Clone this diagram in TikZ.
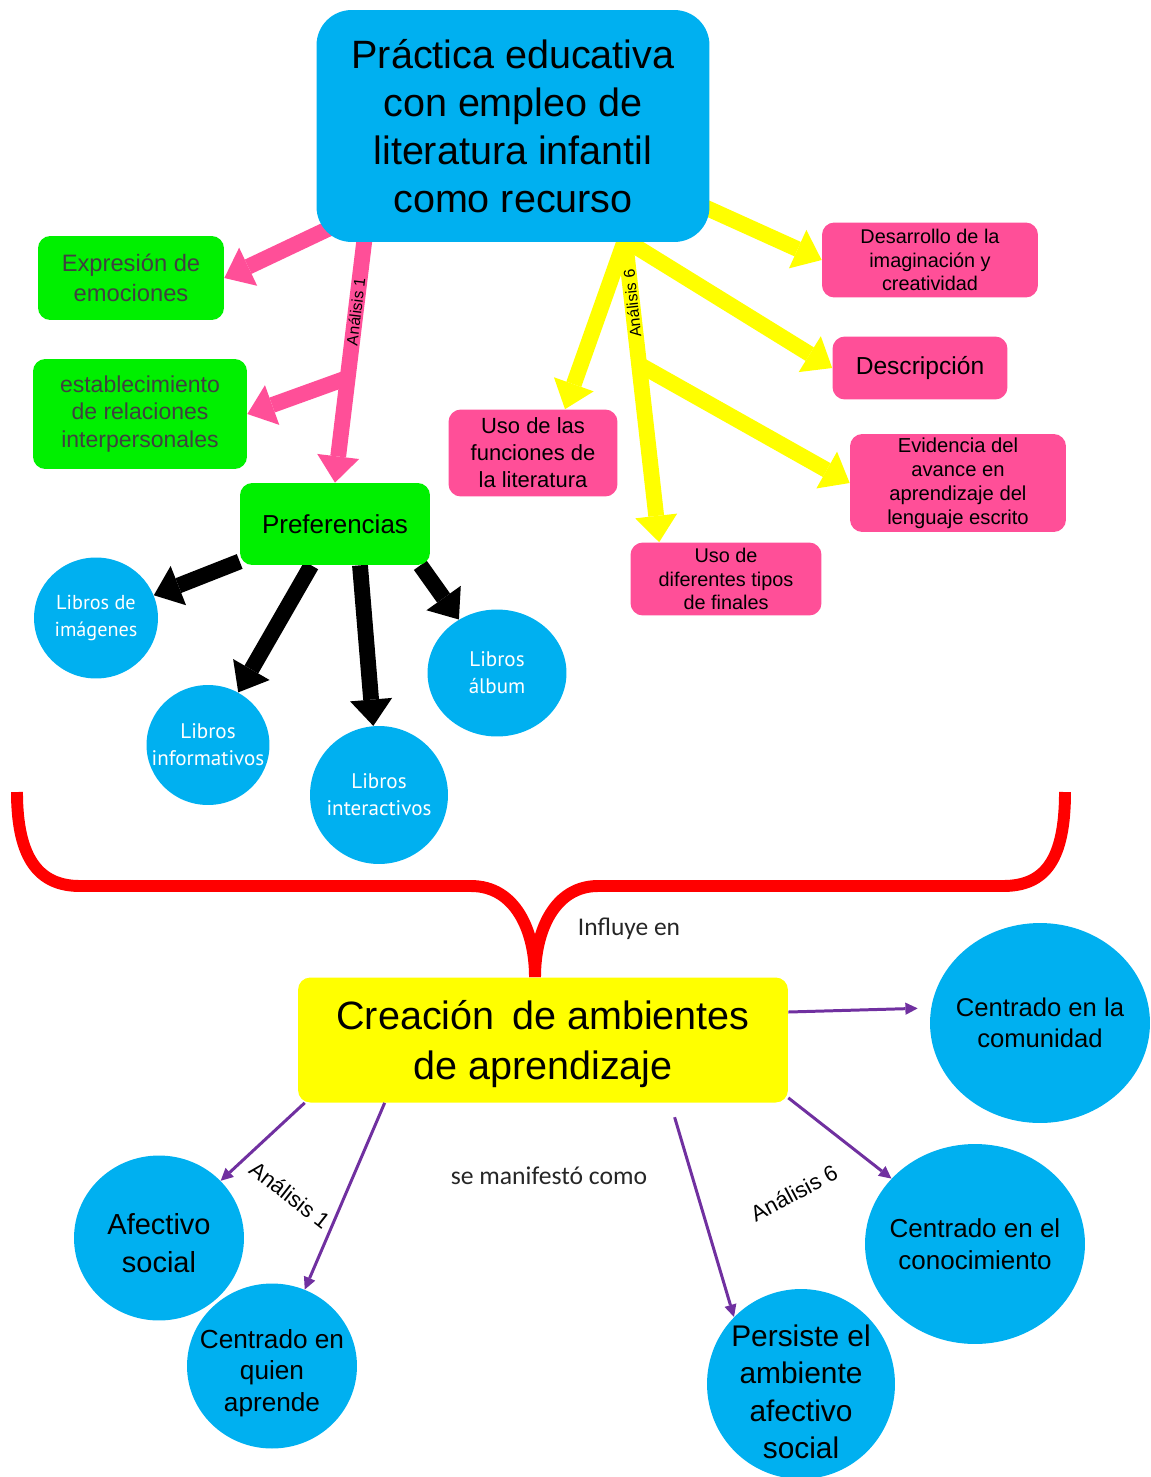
\documentclass[tikz,border=0pt]{standalone}
\usepackage{fontspec}
\setmainfont{Liberation Sans}
\newfontfamily\librosfont{PT Sans}
\newfontfamily\califont{Carlito}
\usepackage{tikz}
\usetikzlibrary{arrows.meta,shapes.geometric,backgrounds}

\definecolor{azul}{HTML}{00B0F0}
\definecolor{verde}{HTML}{00F000}
\definecolor{rosa}{HTML}{FF4F98}
\definecolor{amarillo}{HTML}{FFFF00}
\definecolor{rojo}{HTML}{FF0000}
\definecolor{morado}{HTML}{7030A0}
\definecolor{gris}{HTML}{404040}

\begin{document}
\begin{tikzpicture}[x=0.02cm, y=-0.02cm,
	caja/.style={rounded corners=7pt, align=center, inner sep=0pt},
	circulo/.style={ellipse, fill=azul, inner sep=0pt},
	textolibro/.style={align=center, text=white, font=\librosfont\fontsize{12}{15.3}\selectfont},
	textocirculo/.style={align=center},
	flecha/.style={line width=9pt, -{Triangle[width=24pt,length=15pt,line width=0pt]}},
	fmorada/.style={color=morado, line width=1.7pt, -{Triangle[width=7pt,length=7pt,line width=0pt]}},
	llave/.style={draw=rojo, line width=6.8pt}]
			\useasboundingbox (0,0) rectangle (1151,1477);

			\node[caja, fill=azul] (practica) at (513,126) [rounded corners=20pt, minimum width=7.86cm, minimum height=4.64cm, font=\fontsize{22.5}{27.2}\selectfont] {Práctica educativa\\con empleo de\\literatura infantil\\como recurso};
			\node[caja, fill=verde] (expresion) at (131,278) [text=gris, minimum width=3.72cm, minimum height=1.68cm, font=\fontsize{13.5}{17}\selectfont] {Expresión de\\emociones};
			\node[caja, fill=verde] (relaciones) at (140,414) [text=gris, minimum width=4.28cm, minimum height=2.2cm, font=\fontsize{13.1}{15.9}\selectfont] {establecimiento\\de relaciones\\interpersonales};
			\node[caja, fill=verde] (preferencias) at (335,524) [minimum width=3.8cm, minimum height=1.64cm, font=\fontsize{14.8}{17}\selectfont] {Preferencias};

			\node[caja, fill=rosa] (desarrollo) at (930,260) [minimum width=4.32cm, minimum height=1.5cm, font=\fontsize{11.3}{13.3}\selectfont] {Desarrollo de la\\imaginación y\\creatividad};
			\node[caja, fill=rosa] (descripcion) at (920,368) [minimum width=3.5cm, minimum height=1.26cm, font=\fontsize{14}{16}\selectfont] {Descripción};
			\node[caja, fill=rosa] (funciones) at (533,453) [minimum width=3.38cm, minimum height=1.74cm, font=\fontsize{12.5}{15.3}\selectfont] {Uso de las\\funciones de\\la literatura};
			\node[caja, fill=rosa] (evidencia) at (958,483) [minimum width=4.32cm, minimum height=1.96cm, font=\fontsize{11.5}{13.6}\selectfont] {Evidencia del\\avance en\\aprendizaje del\\lenguaje escrito};
			\node[caja, fill=rosa] (finales) at (726,579) [minimum width=3.82cm, minimum height=1.46cm, font=\fontsize{11.3}{13.3}\selectfont] {Uso de\\diferentes tipos\\de finales};

			\node[circulo] (imagenes) at (96,618) [minimum width=2.48cm, minimum height=2.42cm, label={[textolibro, font=\librosfont\fontsize{11.5}{15.3}\selectfont]center:Libros de\\imágenes}] {};
			\node[circulo] (informativos) at (208,745) [minimum width=2.46cm, minimum height=2.4cm, label={[textolibro]center:Libros\\informativos}] {};
			\node[circulo] (interactivos) at (379,795) [minimum width=2.76cm, minimum height=2.76cm, label={[textolibro]center:Libros\\interactivos}] {};
			\node[circulo] (album) at (497,673) [minimum width=2.78cm, minimum height=2.54cm, label={[textolibro]center:Libros\\álbum}] {};

			\node[caja, fill=amarillo] (creacion) at (543,1040) [minimum width=9.8cm, minimum height=2.5cm, label={[align=center, yshift=-0.08cm, font=\fontsize{22.5}{28.5}\selectfont]center:Creación\, de ambientes\\de aprendizaje}] {};

			\node[circulo] (comunidad) at (1040,1023) [minimum width=4.4cm, minimum height=4cm, label={[textocirculo, font=\fontsize{14.6}{18}\selectfont]center:Centrado en la\\comunidad}] {};
			\node[circulo] (afectivo) at (159,1238) [minimum width=3.4cm, minimum height=3.3cm, label={[textocirculo, yshift=-0.1cm, font=\fontsize{16.5}{21.5}\selectfont]center:Afectivo\\social}] {};
			\node[circulo] (quien) at (272,1366) [minimum width=3.4cm, minimum height=3.3cm, label={[textocirculo, yshift=-0.14cm, font=\fontsize{14.9}{18}\selectfont]center:Centrado en\\quien\\aprende}] {};
			\node[circulo] (persiste) at (801,1384) [minimum width=3.76cm, minimum height=3.8cm, label={[textocirculo, yshift=-0.16cm, font=\fontsize{17}{21.3}\selectfont]center:Persiste el\\ambiente\\afectivo\\social}] {};
			\node[circulo] (conocimiento) at (975,1244) [minimum width=4.4cm, minimum height=4cm, label={[textocirculo, font=\fontsize{14.8}{18}\selectfont]center:Centrado en el\\conocimiento}] {};

			\node (influye) at (629,929) [text=black!85, font=\califont\fontsize{14.5}{17}\selectfont] {Influye en};
			\node (manifesto) at (549,1176) [text=black!85, font=\califont\fontsize{14.6}{17}\selectfont] {se manifestó como};
			\node (analisisuno) at (290,1195) [rotate=-38, inner sep=1pt, font=\fontsize{12.6}{15}\selectfont] {Análisis 1};
			\node (analisisseis) at (794,1193) [rotate=28, inner sep=1pt, font=\fontsize{12.6}{15}\selectfont] {Análisis 6};

			\begin{scope}[on background layer]
				\coordinate (ra) at (330,228);
				\coordinate (rb) at (365,235);
				\coordinate (rc) at (347,378);
				\coordinate (ya) at (700,205);
				\coordinate (yb) at (625,240);
				\coordinate (yc) at (640,365);

				\path	[flecha, rosa]	(ra)	edge	(expresion.east)
				(rb)	edge	node[sloped, pos=0.31, text=black, font=\fontsize{9}{11}\selectfont] {Análisis 1} (preferencias.north)
				(rc)	edge	(relaciones.east);

				\path	[flecha, amarillo]	(ya)	edge	(desarrollo.west)
				(yb)	edge	node[pos=0.21, rotate=96, text=black, font=\fontsize{9}{11}\selectfont] {Análisis 6} ([xshift=0.58cm]finales.north west)
				edge	(descripcion.west)
				edge	([xshift=0.64cm]funciones.north)
				(yc)	edge	(evidencia.west);

				\path	[flecha, black]	(preferencias)	edge	(imagenes)
				edge	(informativos)
				([xshift=0.5cm]preferencias.south)	edge	(interactivos)
				([xshift=-0.2cm]preferencias.south east)	edge	(album);

				\draw[llave] (17,792) .. controls (17,860) and (40,886) .. (80,886) -- (471,886) .. controls (515,886) and (535,930) .. ([xshift=-0.16cm]creacion.north);
				\draw[llave] (1065,792) .. controls (1065,860) and (1045,886) .. (1003,886) -- (598,886) .. controls (555,886) and (535,930) .. ([xshift=-0.16cm]creacion.north);
			\end{scope}

			\path	[fmorada]	([yshift=0.56cm]creacion.east)	edge[shorten >=0.24cm]	([yshift=0.3cm]comunidad.west)
			([xshift=0.14cm]creacion.south west)	edge	(afectivo)
			([xshift=1.74cm]creacion.south west)	edge	(quien)
			([xshift=-2.36cm]creacion.south east)	edge[shorten <=0.3cm]	(persiste.135)
			([yshift=0.1cm]creacion.south east)	edge	(conocimiento);
		\end{tikzpicture}
\end{document}
